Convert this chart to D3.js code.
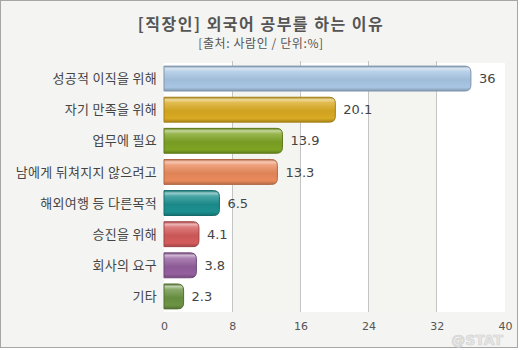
<!DOCTYPE html>
<html><head><meta charset="utf-8">
<script src="https://cdn.jsdelivr.net/npm/d3@7"></script>
<style>
html,body{margin:0;padding:0;background:#fff;}
svg{display:block;font-family:"Noto Sans CJK KR","Noto Sans",sans-serif;}
</style></head>
<body><svg id="c" width="520" height="350"></svg>
<script>
const categories = ["성공적 이직을 위해","자기 만족을 위해","업무에 필요","남에게 뒤쳐지지 않으려고","해외여행 등 다른목적","승진을 위해","회사의 요구","기타"];
const values = [36, 20.1, 13.9, 13.3, 6.5, 4.1, 3.8, 2.3];
const valueLabels = ["36","20.1","13.9","13.3","6.5","4.1","3.8","2.3"];
const barColors = ["#a8c6e4","#d9aa22","#7ea424","#ea8a5c","#1c9090","#d45c5c","#94609e","#6c9444"];
const ticks = [0, 8, 16, 24, 32, 40];
const title = "[직장인] 외국어 공부를 하는 이유";
const subtitle = "[출처: 사람인 / 단위:%]";

const svg = d3.select("#c");
svg.append("rect").attr("x",0.5).attr("y",0.5).attr("width",517).attr("height",347)
  .attr("fill","#f4f4f2").attr("stroke","#a6a6a6");

const m = {left:164, right:505, top:63, bottom:312};
const x = d3.scaleLinear().domain([0,40]).range([m.left,m.right]);
const y = d3.scaleBand().domain(categories).range([m.top,m.bottom]).paddingInner(0.2).paddingOuter(0.1);

// stripes
for(let i=0;i<ticks.length-1;i++){
  svg.append("rect").attr("x",x(ticks[i])).attr("y",m.top)
    .attr("width",x(ticks[i+1])-x(ticks[i])).attr("height",m.bottom-m.top)
    .attr("fill", i%2===0 ? "#ffffff" : "#f4f4f1");
}
// gridlines
svg.append("g").selectAll("line").data(ticks.slice(1,-1)).join("line")
  .attr("x1",d=>x(d)).attr("x2",d=>x(d)).attr("y1",m.top-2).attr("y2",m.bottom)
  .attr("stroke","#c4c4c4").attr("stroke-width",1).attr("shape-rendering","crispEdges");

// axis
const ax = svg.append("g").attr("transform",`translate(0,${m.bottom})`)
  .call(d3.axisBottom(x).tickValues(ticks).tickSize(0).tickPadding(10));
ax.select(".domain").remove();
ax.selectAll("text").attr("fill","#555").attr("font-size",11).attr("font-family","Verdana,'DejaVu Sans',sans-serif");

// gradients
const defs = svg.append("defs");
barColors.forEach((c,i)=>{
  const base = d3.color(c);
  const g = defs.append("linearGradient").attr("id","g"+i).attr("x1",0).attr("y1",0).attr("x2",0).attr("y2",1);
  g.append("stop").attr("offset","0%").attr("stop-color",base.darker(0.6));
  g.append("stop").attr("offset","10%").attr("stop-color",d3.interpolateRgb(c,"#fff")(0.55));
  g.append("stop").attr("offset","22%").attr("stop-color",d3.interpolateRgb(c,"#fff")(0.2));
  g.append("stop").attr("offset","55%").attr("stop-color",base.darker(0.15));
  g.append("stop").attr("offset","85%").attr("stop-color",c);
  g.append("stop").attr("offset","100%").attr("stop-color",base.darker(0.7));
});

const bh = y.bandwidth();
const r = 6;
svg.append("g").selectAll("path").data(values).join("path")
  .attr("d",(d,i)=>{
    const x0 = x(0), x1 = x(d), y0 = y(categories[i]), y1 = y0+bh;
    const rr = Math.min(r,(x1-x0)/2);
    return `M${x0},${y0}H${x1-rr}Q${x1},${y0} ${x1},${y0+rr}V${y1-rr}Q${x1},${y1} ${x1-rr},${y1}H${x0}Z`;
  })
  .attr("fill",(d,i)=>`url(#g${i})`)
  .attr("stroke",(d,i)=>d3.color(barColors[i]).darker(0.8))
  .attr("stroke-width",1);

// value labels
svg.append("g").selectAll("text").data(values).join("text")
  .attr("x",d=>x(d)+8).attr("y",(d,i)=>y(categories[i])+bh/2)
  .attr("dy","0.36em").attr("fill","#444").attr("font-size",13)
  .attr("font-family","Verdana,'DejaVu Sans',sans-serif")
  .text((d,i)=>valueLabels[i]);

// category labels
svg.append("g").selectAll("text").data(categories).join("text")
  .attr("x",157).attr("y",d=>y(d)+bh/2).attr("dy","0.36em")
  .attr("text-anchor","end").attr("fill","#444").attr("font-size",13)
  .attr("letter-spacing",0.3)
  .text(d=>d);

svg.append("text").attr("x",261).attr("y",30).attr("text-anchor","middle")
  .attr("font-size",16).attr("font-weight","bold").attr("fill","#555")
  .attr("letter-spacing",1.5).text(title);
svg.append("text").attr("x",261).attr("y",48).attr("text-anchor","middle")
  .attr("font-size",12).attr("fill","#555").attr("letter-spacing",0.6).text(subtitle);

svg.append("text").attr("x",503).attr("y",345).attr("text-anchor","end")
  .attr("font-size",14).attr("font-weight","bold").attr("fill","#e6e6e6")
  .attr("stroke","#d0d0d0").attr("stroke-width",0.6)
  .attr("font-family","Verdana,'DejaVu Sans',sans-serif").text("@STAT");
</script></body></html>
